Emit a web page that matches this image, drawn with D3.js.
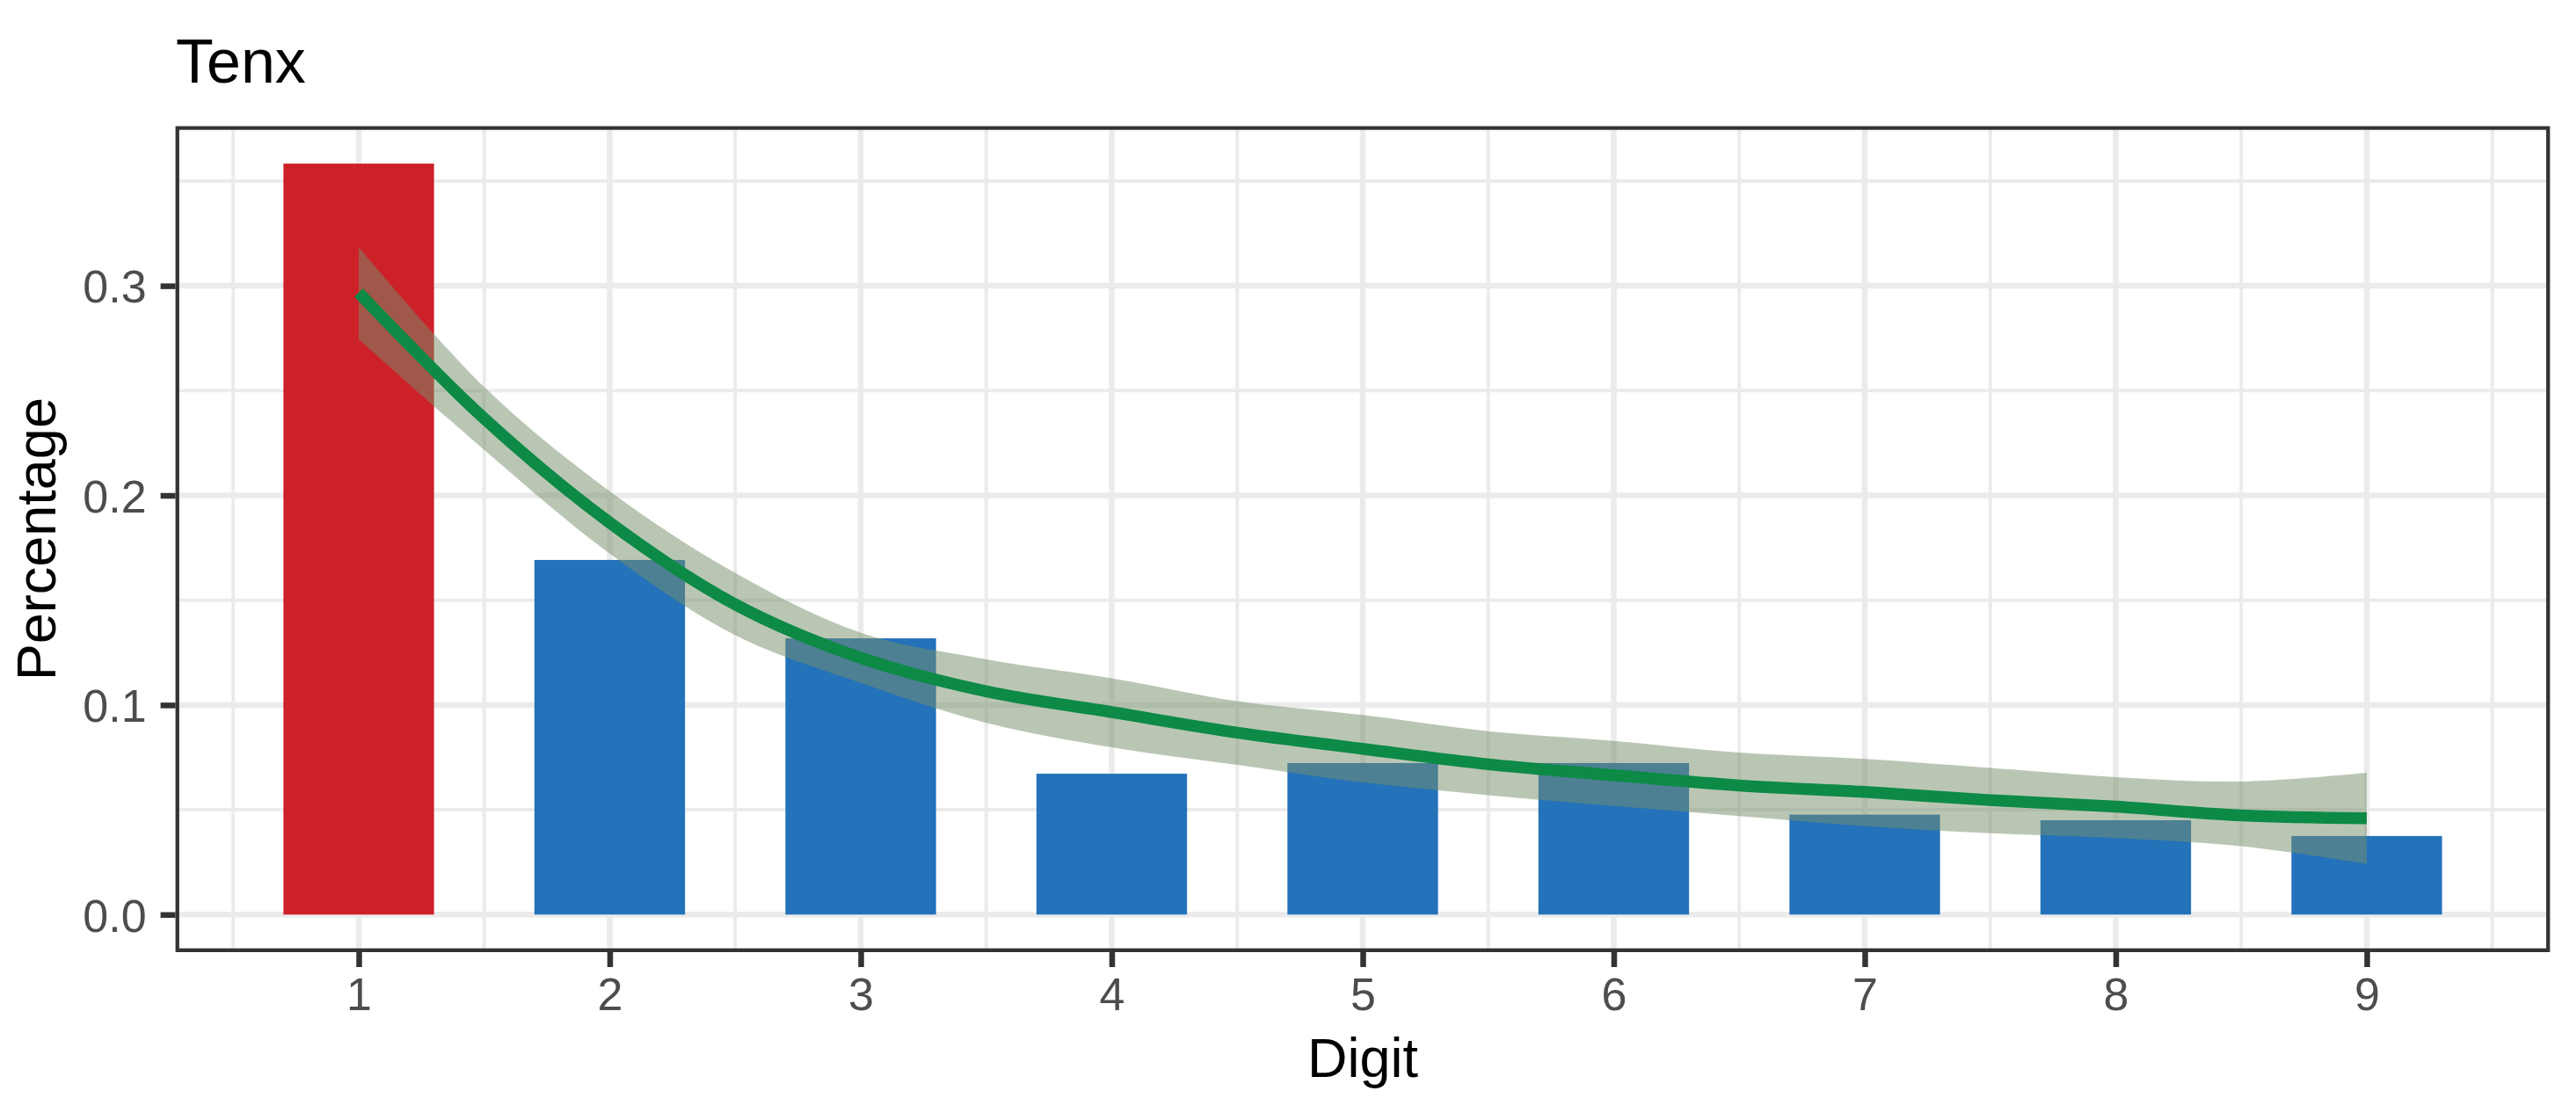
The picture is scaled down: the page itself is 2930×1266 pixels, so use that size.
<!DOCTYPE html>
<html>
<head>
<meta charset="utf-8">
<script src="https://cdn.jsdelivr.net/npm/d3@7"></script>
<style>
html, body { margin: 0; padding: 0; background: #fff; }
text { font-family: "Liberation Sans", Arial, Helvetica, sans-serif; }
</style>
</head>
<body>
<div id="canvas_tenx"></div>
<script>
// ----------------------------------------------------------
// DATA -----------------------------------------------------
// ----------------------------------------------------------
// leading digit and share of observations
var digits = [1, 2, 3, 4, 5, 6, 7, 8, 9];
var shares = [0.3583, 0.1692, 0.1318, 0.0672, 0.0723, 0.0723, 0.0477, 0.0450, 0.0375];
// smoother (fit and confidence band)
var smooth_x = [1, 1.5, 2, 2.5, 3, 3.5, 4, 4.5, 5, 5.5, 6, 6.5, 7, 7.5, 8, 8.5, 9];
var smooth_fit = [0.2967, 0.2367, 0.1870, 0.1480, 0.1225, 0.1065, 0.0966, 0.0868, 0.0791, 0.0717, 0.0665, 0.0616, 0.0585, 0.0546, 0.0515, 0.0473, 0.0459];
var smooth_lo = [0.2746, 0.2217, 0.1722, 0.1333, 0.1105, 0.0915, 0.0798, 0.0714, 0.0630, 0.0570, 0.0518, 0.0470, 0.0422, 0.0388, 0.0365, 0.0326, 0.0242];
var smooth_hi = [0.3185, 0.2517, 0.2020, 0.1630, 0.1345, 0.1218, 0.1127, 0.1018, 0.0952, 0.0875, 0.0829, 0.0773, 0.0743, 0.0700, 0.0656, 0.0635, 0.0677];
// ticks
var x_ticks_major = [1, 2, 3, 4, 5, 6, 7, 8, 9];
var x_ticks_minor = [0.5, 1.5, 2.5, 3.5, 4.5, 5.5, 6.5, 7.5, 8.5, 9.5];
var y_ticks_major = [0, 0.1, 0.2, 0.3];
var y_ticks_minor = [0.05, 0.15, 0.25, 0.35];
// texts
var text_title = "Tenx";
var text_x_title = "Digit";
var text_y_title = "Percentage";

// ----------------------------------------------------------
// LAYOUT ---------------------------------------------------
// ----------------------------------------------------------
var layout = {
  width: 2930,
  height: 1266,
  panel_left: 199.6,
  panel_right: 2900.4,
  panel_top: 143.4,
  panel_bottom: 1083,
  bar_width: 0.6,
  tick_len: 17,
  font_tick: 52,
  font_axis_title: 63,
  font_title: 70,
  color_bar_first: "#CD2129",
  color_bar: "#2372BA",
  color_line: "#0C8A46",
  color_band: "#758D69",
  color_grid: "#EBEBEB",
  color_frame: "#333333",
  color_tick_text: "#4D4D4D"
};

// ----------------------------------------------------------
// STRUCTURE ------------------------------------------------
// ----------------------------------------------------------
var svg = d3.select("#canvas_tenx").append("svg")
  .attr("width", layout.width)
  .attr("height", layout.height)
  .style("display", "block")
  .style("background-color", "#fff");

var panel_w = layout.panel_right - layout.panel_left;
var panel_h = layout.panel_bottom - layout.panel_top;

svg.append("defs").append("clipPath")
  .attr("id", "panel_clip")
  .append("rect")
  .attr("x", layout.panel_left)
  .attr("y", layout.panel_top)
  .attr("width", panel_w)
  .attr("height", panel_h);

// scales - 5% expansion like ggplot
var x_lo = d3.min(digits) - layout.bar_width / 2;
var x_hi = d3.max(digits) + layout.bar_width / 2;
var x_pad = (x_hi - x_lo) * 0.05;
var xScale = d3.scaleLinear()
  .domain([x_lo - x_pad, x_hi + x_pad])
  .range([layout.panel_left, layout.panel_right]);

var y_max = Math.max(d3.max(shares), d3.max(smooth_hi));
var yScale = d3.scaleLinear()
  .domain([-y_max * 0.05, y_max * 1.05])
  .range([layout.panel_bottom, layout.panel_top]);

var panel = svg.append("g").attr("clip-path", "url(#panel_clip)");

// ----------------------------------------------------------
// GRID -----------------------------------------------------
// ----------------------------------------------------------
function drawGrid(cls, xs, ys, sw) {
  var g = panel.append("g").attr("class", cls);
  g.selectAll("line.gx").data(xs).enter().append("line")
    .attr("class", "gx")
    .attr("x1", d => xScale(d)).attr("x2", d => xScale(d))
    .attr("y1", layout.panel_top).attr("y2", layout.panel_bottom);
  g.selectAll("line.gy").data(ys).enter().append("line")
    .attr("class", "gy")
    .attr("y1", d => yScale(d)).attr("y2", d => yScale(d))
    .attr("x1", layout.panel_left).attr("x2", layout.panel_right);
  g.selectAll("line")
    .attr("stroke", layout.color_grid)
    .attr("stroke-width", sw);
}
drawGrid("grid_minor", x_ticks_minor, y_ticks_minor, 4);
drawGrid("grid_major", x_ticks_major, y_ticks_major, 6.5);

// ----------------------------------------------------------
// BARS -----------------------------------------------------
// ----------------------------------------------------------
panel.append("g")
  .attr("class", "bars")
  .selectAll("rect")
  .data(digits)
  .enter()
  .append("rect")
  .attr("x", d => xScale(d - layout.bar_width / 2))
  .attr("width", d => xScale(d + layout.bar_width / 2) - xScale(d - layout.bar_width / 2))
  .attr("y", (d, i) => yScale(shares[i]))
  .attr("height", (d, i) => yScale(0) - yScale(shares[i]))
  .attr("fill", (d, i) => i === 0 ? layout.color_bar_first : layout.color_bar);

// ----------------------------------------------------------
// SMOOTH ---------------------------------------------------
// ----------------------------------------------------------
panel.append("path")
  .datum(smooth_x)
  .attr("fill", layout.color_band)
  .attr("fill-opacity", 0.5)
  .attr("d", d3.area()
    .curve(d3.curveCatmullRom.alpha(0.5))
    .x(d => xScale(d))
    .y0((d, i) => yScale(smooth_lo[i]))
    .y1((d, i) => yScale(smooth_hi[i])));

panel.append("path")
  .datum(smooth_x)
  .attr("fill", "none")
  .attr("stroke", layout.color_line)
  .attr("stroke-width", 13.5)
  .attr("stroke-linecap", "butt")
  .attr("stroke-linejoin", "round")
  .attr("d", d3.line()
    .curve(d3.curveCatmullRom.alpha(0.5))
    .x(d => xScale(d))
    .y((d, i) => yScale(smooth_fit[i])));

// frame (clipped, so only the inner half shows)
panel.append("rect")
  .attr("x", layout.panel_left)
  .attr("y", layout.panel_top)
  .attr("width", panel_w)
  .attr("height", panel_h)
  .attr("fill", "none")
  .attr("stroke", layout.color_frame)
  .attr("stroke-width", 8.6);

// ----------------------------------------------------------
// AXES -----------------------------------------------------
// ----------------------------------------------------------
function styleAxis(g) {
  g.select(".domain").remove();
  g.selectAll(".tick line")
    .attr("stroke", layout.color_frame)
    .attr("stroke-width", 6.5);
  g.selectAll(".tick text")
    .attr("fill", layout.color_tick_text)
    .style("font-size", layout.font_tick + "px")
    .style("font-family", "'Liberation Sans', Arial, sans-serif");
}

svg.append("g")
  .attr("class", "x_axis")
  .attr("transform", "translate(0," + layout.panel_bottom + ")")
  .call(d3.axisBottom(xScale)
    .tickValues(x_ticks_major)
    .tickSize(layout.tick_len)
    .tickFormat(d3.format("d")))
  .call(styleAxis)
  .call(g => g.selectAll(".tick text").attr("y", 66).attr("dy", 0));

svg.append("g")
  .attr("class", "y_axis")
  .attr("transform", "translate(" + layout.panel_left + ",0)")
  .call(d3.axisLeft(yScale)
    .tickValues(y_ticks_major)
    .tickSize(layout.tick_len)
    .tickPadding(16)
    .tickFormat(d3.format(".1f")))
  .call(styleAxis)
  .call(g => g.selectAll(".tick text").attr("dy", "0.36em"));

// ----------------------------------------------------------
// TEXT -----------------------------------------------------
// ----------------------------------------------------------
svg.append("text")
  .attr("x", 200)
  .attr("y", 94)
  .style("font-size", layout.font_title + "px")
  .attr("fill", "#000")
  .text(text_title);

svg.append("text")
  .attr("x", (layout.panel_left + layout.panel_right) / 2)
  .attr("y", 1225)
  .attr("text-anchor", "middle")
  .style("font-size", layout.font_axis_title + "px")
  .attr("fill", "#000")
  .text(text_x_title);

svg.append("text")
  .attr("transform", "translate(63," + ((layout.panel_top + layout.panel_bottom) / 2) + ") rotate(-90)")
  .attr("text-anchor", "middle")
  .style("font-size", layout.font_axis_title + "px")
  .attr("fill", "#000")
  .text(text_y_title);
</script>
</body>
</html>
